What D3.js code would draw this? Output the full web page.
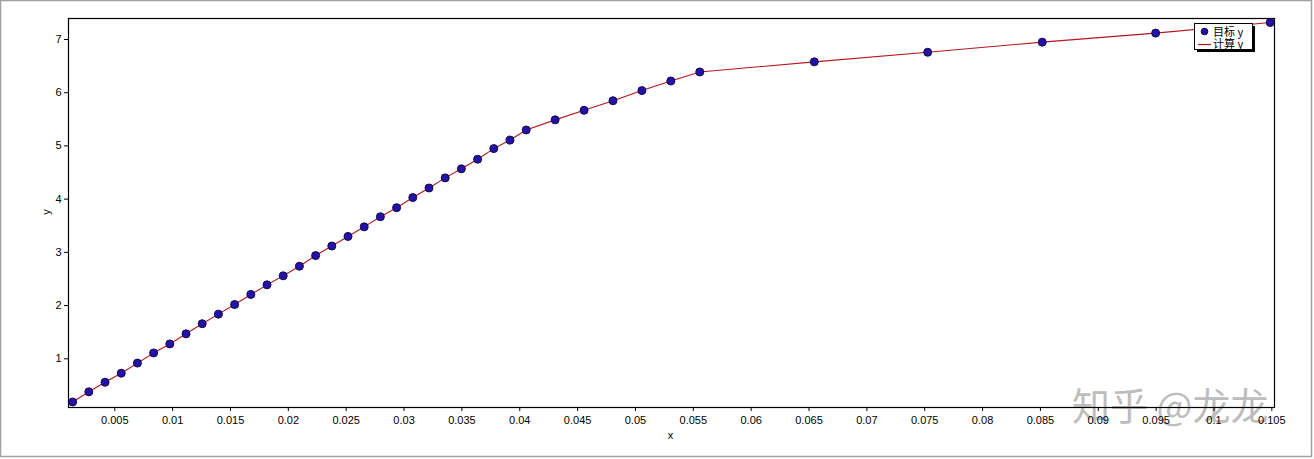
<!DOCTYPE html>
<html>
<head>
<meta charset="utf-8">
<script src="https://cdn.jsdelivr.net/npm/d3@7"></script>
<style>
  html, body { margin: 0; padding: 0; background: #fff; }
  svg { display: block; }
</style>
</head>
<body>
<svg id="chart" width="1314" height="459"></svg>
<script>
// ---- data ----
const xValues = [
  0.0014, 0.0028, 0.0042, 0.0056, 0.0070, 0.0084, 0.0098, 0.0112, 0.0126, 0.0140,
  0.0154, 0.0168, 0.0182, 0.0196, 0.0210, 0.0224, 0.0238, 0.0252, 0.0266, 0.0280,
  0.0294, 0.0308, 0.0322, 0.0336, 0.0350, 0.0364, 0.0378, 0.0392, 0.0406,
  0.0431, 0.0456, 0.0481, 0.0506, 0.0531, 0.0556,
  0.0655, 0.0753, 0.0852, 0.0950, 0.1049
];
const targetY = [
  0.18, 0.37, 0.55, 0.72, 0.91, 1.10, 1.27, 1.46, 1.65, 1.83,
  2.01, 2.20, 2.38, 2.55, 2.73, 2.93, 3.11, 3.29, 3.47, 3.66,
  3.83, 4.02, 4.20, 4.39, 4.56, 4.74, 4.94, 5.10, 5.29,
  5.48, 5.66, 5.84, 6.03, 6.21, 6.38,
  6.57, 6.75, 6.94, 7.11, 7.31
];
const calcY = targetY.slice();
const xTicks = [0.005, 0.01, 0.015, 0.02, 0.025, 0.03, 0.035, 0.04, 0.045, 0.05, 0.055,
  0.06, 0.065, 0.07, 0.075, 0.08, 0.085, 0.09, 0.095, 0.1, 0.105];
const yTicks = [1, 2, 3, 4, 5, 6, 7];
const legendLabels = ["目标 y", "计算 y"];
const xLabel = "x", yLabel = "y";
const watermark = "知乎 @龙龙";

// ---- layout ----
const svg = d3.select("#chart");
const L = 68, R = 1274, T = 18, B = 407;
const x = d3.scaleLinear().domain([0.001, 0.10523]).range([L, R]);
const y = d3.scaleLinear().domain([0.085, 7.394]).range([B, T]);
const font = "'Liberation Sans', Arial, sans-serif";

// outer border
svg.append("rect").attr("x", 0.5).attr("y", 0.5).attr("width", 1311).attr("height", 456)
  .attr("fill", "#fff").attr("stroke", "#a0a0a0").attr("stroke-width", 1.5);

// watermark (behind everything)
svg.append("text").attr("x", 1072).attr("y", 420)
  .attr("font-family", "'Noto Sans CJK SC', sans-serif").attr("font-size", 38)
  .attr("fill", "rgba(150,150,150,0.65)")
  .text(watermark);

// axes
const xAxis = d3.axisBottom(x).tickValues(xTicks).tickSize(4).tickFormat(d => String(+d.toFixed(3)));
const gx = svg.append("g").attr("transform", `translate(0,${B})`).call(xAxis);
gx.select(".domain").remove();
gx.selectAll("line").attr("stroke", "#000");
gx.selectAll("text").attr("font-family", font).attr("font-size", 11).attr("fill", "#000").attr("dy", "0.9em");

const yAxis = d3.axisLeft(y).tickValues(yTicks).tickSize(4).tickFormat(d3.format("d"));
const gy = svg.append("g").attr("transform", `translate(${L},0)`).call(yAxis);
gy.select(".domain").remove();
gy.selectAll("line").attr("stroke", "#000");
gy.selectAll("text").attr("font-family", font).attr("font-size", 11).attr("fill", "#000").attr("x", -6.5);

// frame
svg.append("rect").attr("x", L + 0.5).attr("y", T + 0.5).attr("width", R - L).attr("height", B - T)
  .attr("fill", "none").attr("stroke", "#000").attr("stroke-width", 1.2);

// axis labels
svg.append("text").attr("x", 670.5).attr("y", 439).attr("text-anchor", "middle")
  .attr("font-family", font).attr("font-size", 11).text(xLabel);
svg.append("text").attr("transform", "translate(50,212) rotate(-90)").attr("text-anchor", "middle")
  .attr("font-family", font).attr("font-size", 11).text(yLabel);

// data
const pts = xValues.map((v, i) => ({ x: v, t: targetY[i], c: calcY[i] }));
const line = d3.line().x(d => x(d.x)).y(d => y(d.c));
svg.append("path").datum(pts).attr("d", line).attr("fill", "none")
  .attr("stroke", "#b5161f").attr("stroke-width", 1.1);
svg.append("g").selectAll("circle").data(pts).join("circle")
  .attr("cx", d => x(d.x)).attr("cy", d => y(d.t)).attr("r", 4)
  .attr("fill", "#2410aa").attr("stroke", "#120a40").attr("stroke-width", 1);

// legend
const lg = svg.append("g");
lg.append("rect").attr("x", 1197).attr("y", 26).attr("width", 58).attr("height", 26).attr("fill", "#000");
lg.append("rect").attr("x", 1194.5).attr("y", 23.5).attr("width", 58).attr("height", 26)
  .attr("fill", "#fff").attr("stroke", "#000").attr("stroke-width", 1);
lg.append("circle").attr("cx", 1204.5).attr("cy", 31.5).attr("r", 3.3)
  .attr("fill", "#2410aa").attr("stroke", "#120a40").attr("stroke-width", 1);
lg.append("line").attr("x1", 1198).attr("x2", 1211).attr("y1", 44.5).attr("y2", 44.5)
  .attr("stroke", "#b5161f").attr("stroke-width", 1.2);
legendLabels.forEach((t, i) => {
  lg.append("text").attr("x", 1213).attr("y", 35.5 + i * 12.5)
    .attr("font-family", "'Noto Sans CJK SC', sans-serif").attr("font-size", 11)
    .attr("fill", "#000").text(t);
});
</script>
</body>
</html>
